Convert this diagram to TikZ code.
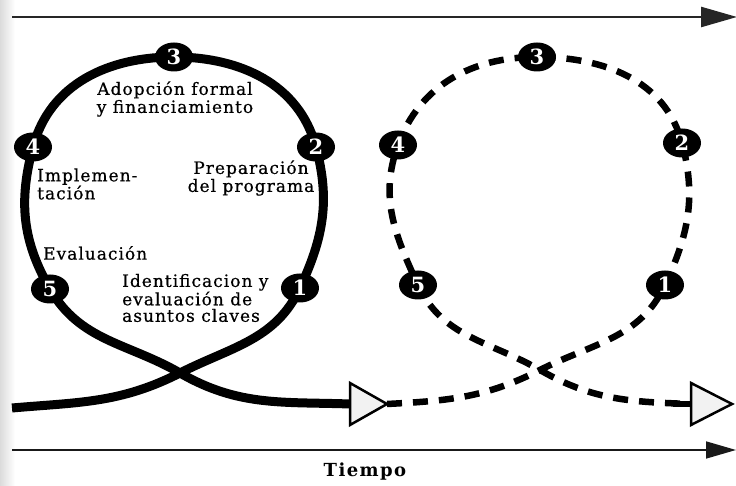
\documentclass[tikz,border=0pt]{standalone}
\usepackage{fontspec}
\setmainfont{DejaVu Serif}
\newfontfamily\labfont[LetterSpace=6,FakeBold=0.6]{DejaVu Serif}
\newfontfamily\titfont[LetterSpace=8]{DejaVu Serif}
\newfontfamily\numfont{DejaVu Serif}
\usetikzlibrary{arrows.meta,shapes.geometric,calc}
\begin{document}
\begin{tikzpicture}[x=1pt,y=1pt,
  num/.style={ellipse, fill=black, draw=black, line width=1pt, minimum width=37pt, minimum height=28pt, inner sep=0pt, text=white, font=\numfont\bfseries\fontsize{21}{21}\selectfont},
  lab/.style={font=\labfont\fontsize{17}{18}\selectfont, inner sep=0pt},
  solidloop/.style={line width=9pt, line cap=butt},
  dashloop/.style={line width=6.5pt, dash pattern=on 15pt off 11pt},
  stub/.style={line width=6.5pt},
  axistop/.style={line width=2.5pt, draw=black!85, -{Triangle[length=36pt,width=20pt]}},
  axisbot/.style={line width=1.6pt, draw=black!90, -{Triangle[length=30pt,width=17pt]}},
  tri/.style={draw=black, line width=2.5pt, fill=black!5, line join=miter}
]
\useasboundingbox (0,0) rectangle (736,486);
\shade[left color=black!14, right color=white] (0,0) rectangle (15,486);

% axes
\coordinate (topL) at (12,469);
\coordinate (topR) at (737,469);
\coordinate (botL) at (12,36);
\coordinate (botR) at (736,36);
\draw[axistop] (topL) -- (topR);
\draw[axisbot] (botL) -- (botR);
\node[font=\titfont\bfseries\fontsize{18}{18}\selectfont, inner sep=0pt] (tiempo) at (365,14) {Tiempo};

% left loop coordinates
\coordinate (L0) at (12,78);
\coordinate (X1) at (180,113);
\coordinate (c1) at (300,198);
\coordinate (c2) at (316,339);
\coordinate (c3) at (174,429);
\coordinate (c4) at (33,339);
\coordinate (c5) at (50,197);
\coordinate (tA) at (350,82);
\coordinate (tAtip) at (387,82);
\coordinate (R0s) at (395,82);

% right loop coordinates
\coordinate (X2) at (540,116);
\coordinate (d1) at (665,201);
\coordinate (d2) at (682,343);
\coordinate (d3) at (537,429);
\coordinate (d4) at (398,341);
\coordinate (d5) at (418,201);
\coordinate (tB) at (691,82);
\coordinate (tBtip) at (732,82);
\coordinate (R1s) at (673,82);

% solid loop
\draw[solidloop] (L0) to[out=5,in=207] (X1) to[out=27,in=245] (c1)
  to[out=65,in=285] (c2) to[out=105,in=0] (c3) to[out=180,in=75] (c4)
  to[out=255,in=120] (c5) to[out=300,in=150] (X1) to[out=-30,in=178] (tA);

% dashed loop
\draw[dashloop] (tAtip) to[out=3,in=207] (X2) to[out=27,in=245] (d1)
  to[out=65,in=285] (d2) to[out=105,in=0] (d3) to[out=180,in=70] (d4)
  to[out=250,in=115] (d5) to[out=295,in=150] (X2) to[out=-30,in=178] (tB);
\draw[stub] (tAtip) -- (R0s);
\draw[stub] (R1s) -- (tB);

% triangles
\draw[tri] ($(tA)+(0,21)$) -- (tAtip) -- ($(tA)+(0,-21)$) -- cycle;
\draw[tri] ($(tB)+(0,21)$) -- (tBtip) -- ($(tB)+(0,-21)$) -- cycle;

% numbered nodes
\node[num] (n1) at (c1) {1};
\node[num] (n2) at (c2) {2};
\node[num] (n3) at (c3) {3};
\node[num] (n4) at (c4) {4};
\node[num] (n5) at (c5) {5};
\node[num] (m1) at (d1) {1};
\node[num] (m2) at (d2) {2};
\node[num] (m3) at (d3) {3};
\node[num] (m4) at (d4) {4};
\node[num] (m5) at (d5) {5};

% labels
\node[lab, align=center] (adop) at (175,387) {Adopción formal\\y financiamiento};
\node[lab, align=left, anchor=west] (impl) at (37,302) {Implemen-\\tación};
\node[lab, align=center] (prep) at (251,308) {Preparación\\del programa};
\node[lab, anchor=west] (eval) at (43,233) {Evaluación};
\node[lab, align=left, anchor=west, font=\labfont\fontsize{17}{16.5}\selectfont] (iden) at (122,188) {Identificacion y\\evaluación de\\asuntos claves};
\end{tikzpicture}
\end{document}
